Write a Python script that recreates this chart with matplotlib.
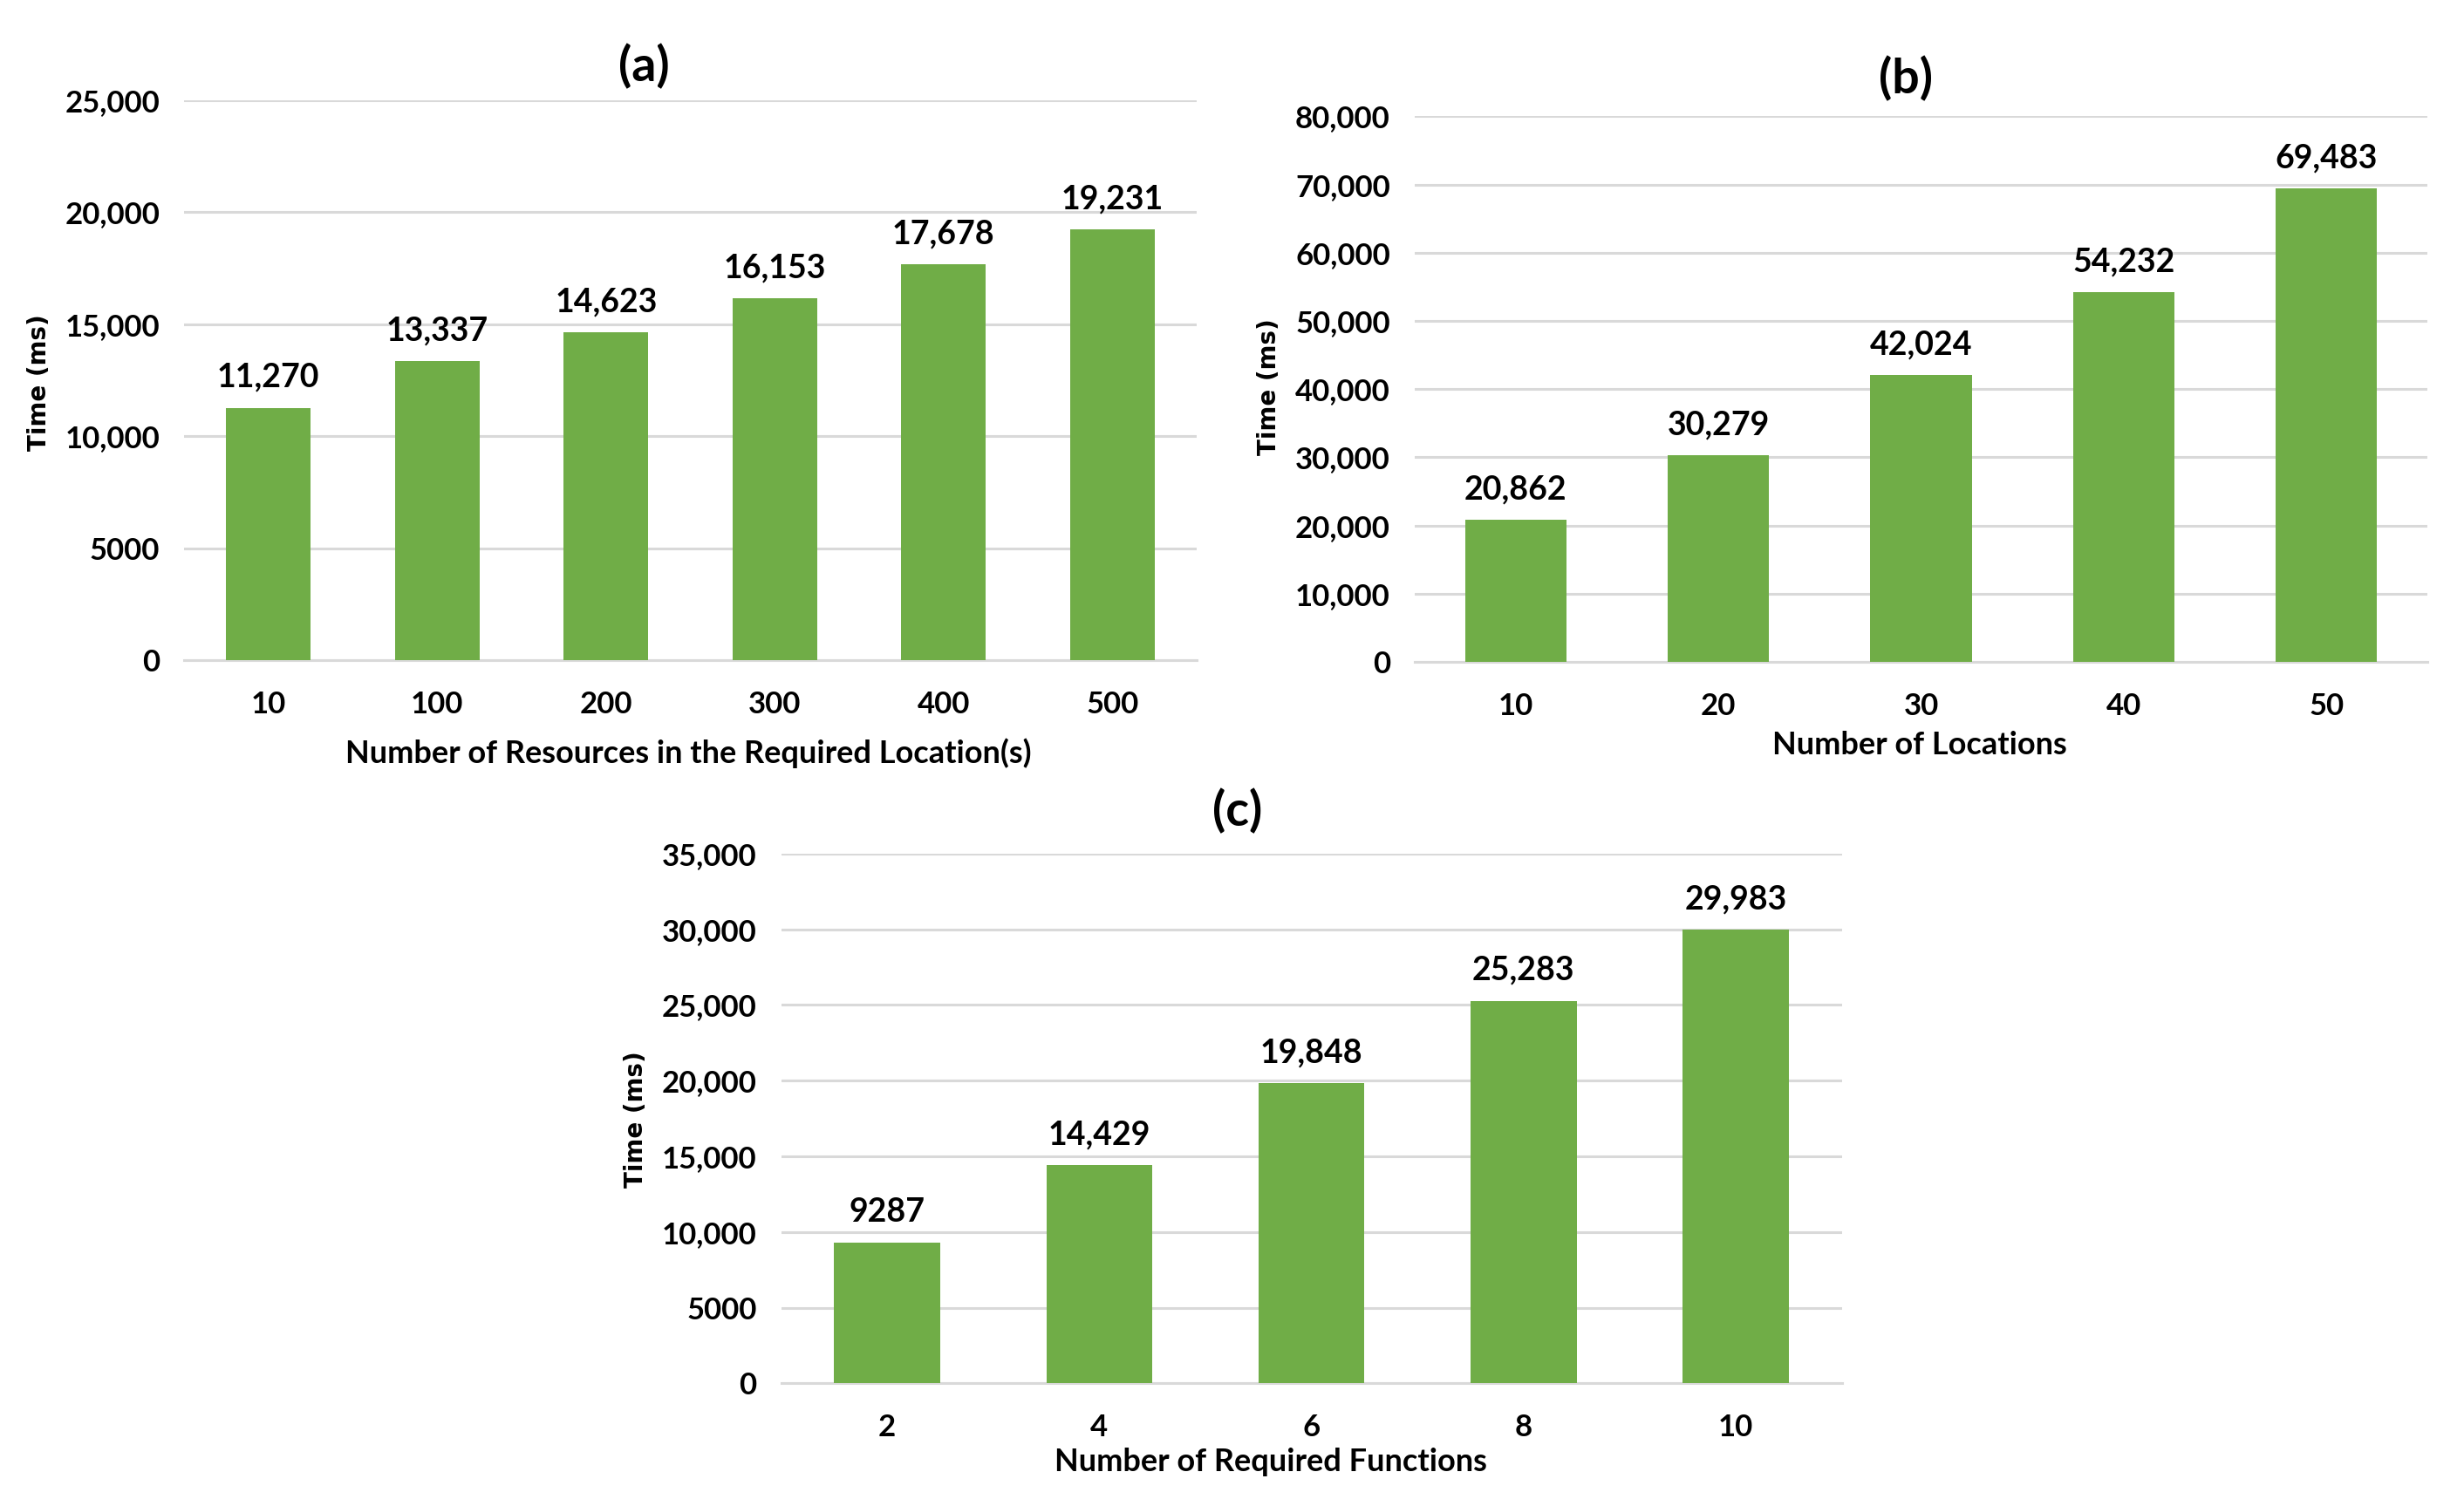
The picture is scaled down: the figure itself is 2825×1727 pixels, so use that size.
import numpy as np
import matplotlib
matplotlib.use('Agg')
import matplotlib.pyplot as plt
from matplotlib.ticker import FuncFormatter

# panel (a)
a_labels = ['10', '100', '200', '300', '400', '500']
a_values = [11270, 13337, 14623, 16153, 17678, 19231]
# panel (b)
b_labels = ['10', '20', '30', '40', '50']
b_values = [20862, 30279, 42024, 54232, 69483]
# panel (c)
c_labels = ['2', '4', '6', '8', '10']
c_values = [9287, 14429, 19848, 25283, 29983]

green = '#70AD47'
grid_color = '#D9D9D9'
plt.rcParams['font.family'] = ['Lato', 'DejaVu Sans']
plt.rcParams['font.weight'] = 'bold'


def excel_fmt(v, pos=None):
    v = int(round(v))
    if v >= 10000:
        return f'{v:,}'
    return str(v)


def draw_panel(ax, labels, values, ymax, step, xlabel, label_xy):
    x = np.arange(len(labels))
    ax.bar(x, values, width=0.5, color=green, zorder=3)
    ax.set_xlim(-0.5, len(labels) - 0.5)
    ax.set_ylim(0, ymax)
    ax.set_yticks(np.arange(0, ymax + 1, step))
    ax.yaxis.set_major_formatter(FuncFormatter(excel_fmt))
    ax.set_xticks(x)
    ax.set_xticklabels(labels)
    ax.grid(axis='y', color=grid_color, linewidth=2.2, zorder=0)
    for s in ['top', 'right', 'left']:
        ax.spines[s].set_visible(False)
    ax.spines['bottom'].set_color(grid_color)
    ax.spines['bottom'].set_linewidth(2.2)
    ax.tick_params(axis='both', length=0, labelsize=25)
    ax.tick_params(axis='y', pad=20)
    ax.tick_params(axis='x', pad=25)
    for xi, v in zip(x, values):
        ax.annotate(excel_fmt(v), (xi, v), xytext=(0, 25), textcoords='offset points',
                    ha='center', va='center', fontsize=27, fontweight='bold')
    ax.set_xlabel(xlabel, fontsize=26, fontweight='bold')
    ax.xaxis.set_label_coords(*label_xy)
    ax.xaxis.label.set_va('center')


fig = plt.figure(figsize=(28.25, 17.27), dpi=100)

ax_a = fig.add_axes([0.0747, 0.5617, 0.411, 0.3717])
draw_panel(ax_a, a_labels, a_values, 25000, 5000,
           'Number of Resources in the Required Location(s)', (0.4984, -0.1657))

ax_b = fig.add_axes([0.574, 0.5605, 0.4113, 0.3622])
draw_panel(ax_b, b_labels, b_values, 80000, 10000, 'Number of Locations', (0.499, -0.1527))

ax_c = fig.add_axes([0.317, 0.0814, 0.4305, 0.3518])
draw_panel(ax_c, c_labels, c_values, 35000, 5000, 'Number of Required Functions', (0.462, -0.1484))

# panel titles
fig.text(0.2615, 0.956, '(a)', ha='center', va='center', fontsize=40, fontweight='bold')
fig.text(0.7736, 0.9478, '(b)', ha='center', va='center', fontsize=40, fontweight='bold')
fig.text(0.502, 0.4614, '(c)', ha='center', va='center', fontsize=40, fontweight='bold')

# y labels
for xf, yf in [(0.016, 0.746), (0.515, 0.743), (0.258, 0.2568)]:
    fig.text(xf, yf, 'Time (ms)', rotation=90, ha='center', va='center',
             fontsize=20, fontweight='bold', family='DejaVu Sans')

fig.savefig('out.png', dpi=100, facecolor='white')
